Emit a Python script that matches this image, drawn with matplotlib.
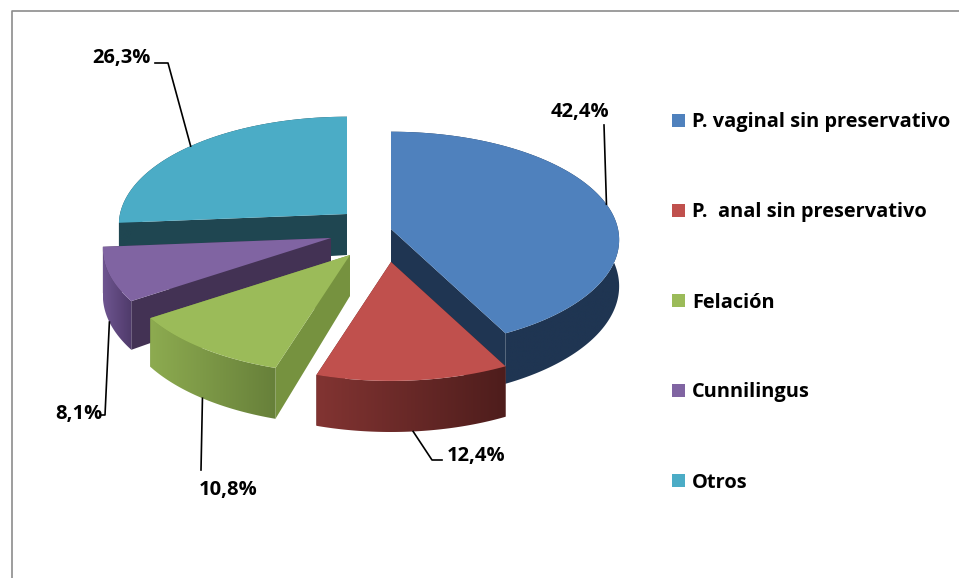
#!/usr/bin/python
# -*- coding: UTF-8 -*-
import numpy as np
import matplotlib
matplotlib.use('Agg')
import matplotlib.pyplot as plt
from matplotlib.colors import to_rgb
from matplotlib.patches import Polygon, Rectangle

#################################
# data
categories = ['P. vaginal sin preservativo', 'P.  anal sin preservativo',
              'Felación', 'Cunnilingus', 'Otros']
values = [42.4, 12.4, 10.8, 8.1, 26.3]
value_labels = ['42,4%', '12,4%', '10,8%', '8,1%', '26,3%']

#################################
# style
top_colors = ['#4f81bd', '#c0504d', '#9bbb59', '#8064a2', '#4bacc6']
side_left = ['#1f3552', '#823432', '#8dab50', '#6e5590', '#1f4651']
side_right = ['#1f3552', '#4e1d1c', '#67803a', '#4f3a6a', '#1f4651']
face_colors = ['#1f3552', '#5c2322', '#76923f', '#433254', '#1f4651']
# apex of each exploded slice in pixels
apex = [(391, 229), (391, 262), (350, 255), (331, 238), (347, 214)]
draw_order = [4, 3, 2, 0, 1]

RX = 227.0
RY = 107.0
PERSP = 0.10
DEPTH = 46.0
APEX_DEPTH = 41.0

plt.rcParams['font.family'] = ['Open Sans', 'DejaVu Sans']

fig = plt.figure(figsize=(9.59, 5.78), dpi=100)
ax = fig.add_axes([0, 0, 1, 1])
ax.axis('off')


def proj(t, r=1.0):
    # perspective of a point on the tilted disc, relative to the apex
    X = r*np.cos(t)
    Y = r*np.sin(t)
    s = 1.0/(1.0 + PERSP*Y)
    return RX*X*s, -RY*Y*s, s


# slice angles, clockwise from the top
fracs = np.array(values)/np.sum(values)
edges = np.pi/2 - 2*np.pi*np.concatenate([[0], np.cumsum(fracs)])

# frame
ax.plot([12, 12, 959], [578, 11, 11], color='#8c8c8c', lw=1.2, zorder=1)

z = 2
for i in draw_order:
    t = np.linspace(edges[i], edges[i+1], 160)
    ox, oy = apex[i]
    x, y, s = proj(t)
    x = x + ox
    y = y + oy
    d = DEPTH*s

    # straight cut faces
    for k in [0, -1]:
        ax.add_patch(Polygon([(ox, oy), (x[k], y[k]), (x[k], y[k]+d[k]), (ox, oy+APEX_DEPTH)],
                             closed=True, fc=face_colors[i], ec='none', zorder=z))
    z += 1

    # outer wall with a horizontal gradient, clipped to the wall outline
    c0 = np.array(to_rgb(side_left[i]))
    c1 = np.array(to_rgb(side_right[i]))
    grad = np.linspace(0, 1, 256)[None, :, None]
    img = c0[None, None, :] + (c1-c0)[None, None, :]*grad
    wall = Polygon(np.column_stack([np.r_[x, x[::-1]], np.r_[y, (y+d)[::-1]]]), closed=True,
                   transform=ax.transData, fc='none', ec='none')
    ax.add_patch(wall)
    im = ax.imshow(img, extent=[x.min(), x.max(), (y+d).max(), y.min()], aspect='auto',
                   interpolation='bilinear', zorder=z)
    im.set_clip_path(wall)
    z += 1

    # top of the slice
    ax.add_patch(Polygon(np.column_stack([np.r_[ox, x], np.r_[oy, y]]), closed=True,
                         fc=top_colors[i], ec='none', zorder=z))
    z += 1

# leader lines: from the slice to the elbow, then the label
leader_elbow = [[(604, 125)],
                [(432, 460), (442, 460)],
                [(201, 470)],
                [(105, 415), (101, 415)],
                [(168, 63), (155, 63)]]
leader_wall = [False, True, True, True, False]
label_pos = [(580, 111.5), (476, 455.5), (228, 489.5), (79, 413.5), (121, 58.5)]

for i in range(len(values)):
    mid = 0.5*(edges[i] + edges[i+1])
    mx, my, ms = proj(mid)
    px = mx + apex[i][0]
    py = my + apex[i][1]
    if leader_wall[i]:
        py = py + DEPTH*ms
    xs = [px] + [p[0] for p in leader_elbow[i]]
    ys = [py] + [p[1] for p in leader_elbow[i]]
    ax.plot(xs, ys, color='black', lw=1.2, zorder=60)
    ax.text(label_pos[i][0], label_pos[i][1], value_labels[i], fontsize=14.5, fontweight='bold',
            ha='center', va='center', color='black', zorder=61)

# legend
legend_y = [121, 211, 301, 391, 481]
for i, name in enumerate(categories):
    ax.add_patch(Rectangle((672, legend_y[i]-7), 13, 13, fc=top_colors[i], ec='none', zorder=60))
    ax.text(692, legend_y[i]+1.5, name, fontsize=14.4, fontweight='bold', ha='left', va='center',
            color='black', zorder=61)

ax.set_xlim(0, 959)
ax.set_ylim(578, 0)
fig.savefig('out.png', dpi=100)
